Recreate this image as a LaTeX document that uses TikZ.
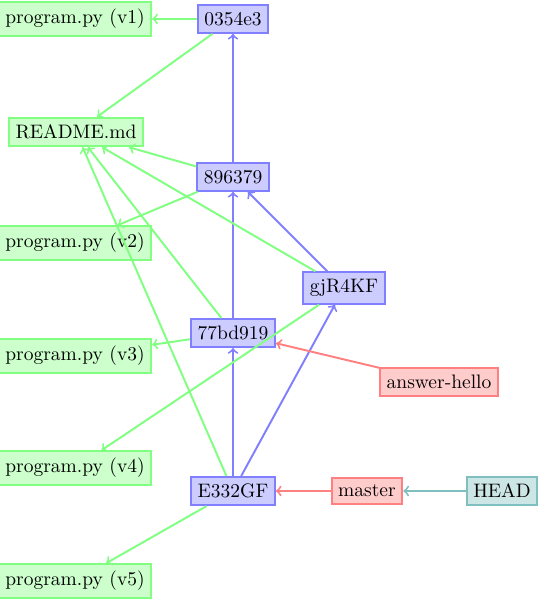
\documentclass[tikz,border=0pt]{standalone}
\usetikzlibrary{arrows}
\begin{document}
\begin{tikzpicture}[x=0.5128pt,y=-0.5128pt,
  every node/.style={draw, line width=1pt, inner xsep=3.33pt, inner ysep=3.6pt},
  filebox/.style={draw=green!50, fill=green!20},
  commitbox/.style={draw=blue!50, fill=blue!20},
  branchbox/.style={draw=red!50, fill=red!20},
  headbox/.style={draw=teal!50, fill=teal!20},
  fileedge/.style={->, line width=1pt, green!50},
  commitedge/.style={->, line width=1pt, blue!50},
  branchedge/.style={->, line width=1pt, red!50},
  headedge/.style={->, line width=1pt, teal!50}]
\useasboundingbox (0,0) rectangle (540,600);
\node[filebox] (v1) at (75,19) {program.py (v1)};
\node[commitbox] (c1) at (233,19) {0354e3};
\node[filebox] (readme) at (76,132) {README.md};
\node[commitbox] (c2) at (233,177) {896379};
\node[filebox] (v2) at (75,243) {program.py (v2)};
\node[commitbox] (c4) at (344,288) {gjR4KF};
\node[commitbox] (c3) at (233,333) {77bd919};
\node[filebox] (v3) at (75,356) {program.py (v3)};
\node[branchbox] (hello) at (439,382) {answer-hello};
\node[filebox] (v4) at (75,468) {program.py (v4)};
\node[commitbox] (c5) at (233,491) {E332GF};
\node[branchbox] (master) at (367,491) {master};
\node[headbox] (head) at (502,491) {HEAD};
\node[filebox] (v5) at (75,581) {program.py (v5)};

\draw[commitedge] (c2) -- (c1);
\draw[commitedge] (c3) -- (c2);
\draw[commitedge] (c4) -- (c2);
\draw[commitedge] (c5) -- (c3);
\draw[commitedge] (c5) -- (c4);

\draw[fileedge] (c1) -- (v1);
\draw[fileedge] (c1) -- (readme);
\draw[fileedge] (c2) -- (readme);
\draw[fileedge] (c2) -- (v2);
\draw[fileedge] (c4) -- (readme);
\draw[fileedge] (c4) -- (v4);
\draw[fileedge] (c3) -- (readme);
\draw[fileedge] (c3) -- (v3);
\draw[fileedge] (c5) -- (readme);
\draw[fileedge] (c5) -- (v5);

\draw[branchedge] (hello) -- (c3);
\draw[branchedge] (master) -- (c5);
\draw[headedge] (head) -- (master);
\end{tikzpicture}
\end{document}
